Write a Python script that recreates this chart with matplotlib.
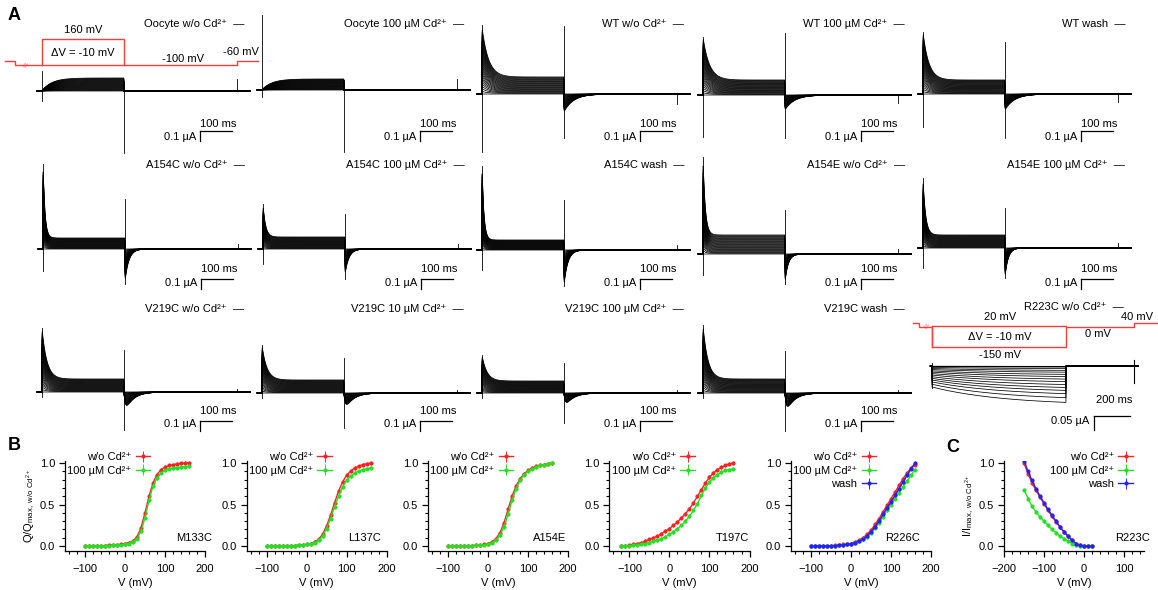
import numpy as np
import matplotlib
matplotlib.use('Agg')
import matplotlib.pyplot as plt
from matplotlib.ticker import MultipleLocator

plt.rcParams['font.family'] = ['Liberation Sans', 'DejaVu Sans']
plt.rcParams['mathtext.fontset'] = 'custom'
plt.rcParams['mathtext.rm'] = 'Liberation Sans'
plt.rcParams['mathtext.it'] = 'Liberation Sans:italic'
plt.rcParams['mathtext.default'] = 'regular'
plt.rcParams['font.size'] = 8

CD = 'Cd²⁺'

# ---------------- panel A: current-trace families (uA, ms) ----------------
cell_labels = [
    'Oocyte w/o ' + CD, 'Oocyte 100 µM ' + CD, 'WT w/o ' + CD,
    'WT 100 µM ' + CD, 'WT wash',
    'A154C w/o ' + CD, 'A154C 100 µM ' + CD, 'A154C wash',
    'A154E w/o ' + CD, 'A154E 100 µM ' + CD,
    'V219C w/o ' + CD, 'V219C 10 µM ' + CD, 'V219C 100 µM ' + CD,
    'V219C wash',
]
peak_on = [0.00, 0.00, 0.67, 0.58, 0.62, 0.85, 0.45, 0.84, 0.97, 0.70, 0.64, 0.48, 0.38, 0.68]
ss_on = [0.13, 0.11, 0.17, 0.15, 0.14, 0.11, 0.12, 0.10, 0.19, 0.13, 0.13, 0.13, 0.12, 0.14]
tau_on = [1, 1, 20, 20, 18, 6, 8, 6, 7, 8, 15, 15, 15, 15]
rise_on = [30, 30, 0.3, 0.3, 0.3, 0.3, 0.3, 0.3, 0.3, 0.3, 0.3, 0.3, 0.3, 0.3]
peak_off = [0.00, 0.00, 0.18, 0.15, 0.16, 0.33, 0.26, 0.36, 0.29, 0.30, 0.20, 0.17, 0.14, 0.20]
tau_off = [1, 1, 30, 30, 30, 12, 12, 12, 10, 10, 25, 25, 25, 25]
rise_off = [0.3, 0.3, 0.3, 0.3, 0.3, 0.3, 0.3, 0.3, 0.3, 0.3, 5, 5, 5, 5]
cap_on = [(0.20, -0.10), (0.75, -0.07), (0.69, -0.58), (0.58, -0.42), (0.62, -0.33),
          (0.85, -0.22), (0.45, -0.15), (0.84, -0.20), (0.97, -0.21), (0.70, -0.20),
          (0.64, -0.05), (0.48, -0.05), (0.38, -0.05), (0.68, -0.05)]
cap_off = [(0.10, -0.62), (0.10, -0.62), (0.68, -0.44), (0.62, -0.43), (0.52, -0.44),
           (0.50, -0.35), (0.35, -0.30), (0.50, -0.36), (0.44, -0.30), (0.40, -0.30),
           (0.42, -0.38), (0.35, -0.35), (0.30, -0.30), (0.42, -0.38)]
cap_end = [0.12, 0.11, -0.10, -0.08, -0.08, 0.05, 0.05, 0.05, 0.05, 0.05, 0.03, 0.03, 0.03, 0.03]
n_steps = 27          # 160 mV down to -100 mV in -10 mV steps
t_pulse, t_step, t_end = 256, 609, 650

# R223C (hyperpolarising protocol)
r223_i_start = 0.075
r223_i_end = 0.13
r223_tau = 400
r_pulse, r_step, r_end = 745, 1122, 1145

# ---------------- panel B: Q-V curves ----------------
b_names = ['M133C', 'L137C', 'A154E', 'T197C', 'R226C']
v_b = np.arange(-100, 161, 10)
v_t197 = np.arange(-120, 161, 10)
m133c_wo = [0, 0, 0, 0, 0, 0.005, 0.01, 0.01, 0.015, 0.02,
            0.03, 0.04, 0.06, 0.11, 0.22, 0.40, 0.60, 0.76, 0.86, 0.92, 0.95, 0.97, 0.98, 0.99, 0.995, 1.0, 1.0]
m133c_cd = [0, 0, 0, 0, 0, 0, 0.005, 0.01, 0.01, 0.015,
            0.02, 0.03, 0.05, 0.09, 0.18, 0.34, 0.55, 0.72, 0.82, 0.88, 0.91, 0.93, 0.94, 0.945, 0.95, 0.955, 0.96]
l137c_wo = [0, 0, 0, 0, 0, 0, 0, 0.005, 0.01, 0.015,
            0.02, 0.03, 0.05, 0.08, 0.14, 0.24, 0.37, 0.52, 0.66, 0.77, 0.85, 0.90, 0.94, 0.96, 0.98, 0.99, 1.0]
l137c_cd = [0, 0, 0, 0, 0, 0, 0, 0.005, 0.01, 0.01,
            0.02, 0.03, 0.04, 0.07, 0.12, 0.21, 0.33, 0.47, 0.60, 0.71, 0.79, 0.84, 0.88, 0.90, 0.92, 0.93, 0.94]
a154e_wo = [0, 0, 0, 0, 0, 0, 0.005, 0.01, 0.01, 0.02,
            0.03, 0.05, 0.09, 0.16, 0.28, 0.44, 0.60, 0.72, 0.81, 0.87, 0.91, 0.94, 0.96, 0.97, 0.98, 0.99, 1.0]
a154e_cd = [0, 0, 0, 0, 0, 0, 0.005, 0.01, 0.01, 0.015,
            0.025, 0.04, 0.07, 0.13, 0.23, 0.38, 0.55, 0.69, 0.79, 0.86, 0.90, 0.93, 0.95, 0.97, 0.98, 0.99, 1.0]
t197c_wo = [0, 0, 0.01, 0.02, 0.03, 0.04, 0.06, 0.08, 0.10, 0.12, 0.15, 0.18, 0.21, 0.25, 0.29,
            0.34, 0.39, 0.45, 0.52, 0.60, 0.68, 0.76, 0.83, 0.88, 0.92, 0.95, 0.97, 0.99, 1.0]
t197c_cd = [0, 0, 0, 0.01, 0.01, 0.02, 0.03, 0.04, 0.06, 0.07, 0.09, 0.11, 0.14, 0.17, 0.21,
            0.25, 0.30, 0.36, 0.43, 0.51, 0.61, 0.70, 0.77, 0.82, 0.86, 0.89, 0.91, 0.92, 0.93]
r226c_wo = [0, 0, 0, 0, 0, 0, 0.01, 0.01, 0.02, 0.02,
            0.03, 0.05, 0.07, 0.10, 0.14, 0.19, 0.26, 0.33, 0.41, 0.49, 0.57, 0.65, 0.73, 0.81, 0.88, 0.94, 0.98]
r226c_cd = [0, 0, 0, 0, 0, 0, 0.005, 0.01, 0.01, 0.02,
            0.02, 0.04, 0.06, 0.08, 0.11, 0.16, 0.22, 0.28, 0.35, 0.43, 0.50, 0.57, 0.64, 0.71, 0.78, 0.85, 0.92]
r226c_wash = [0, 0, 0, 0, 0, 0, 0.005, 0.01, 0.01, 0.02,
              0.03, 0.04, 0.06, 0.08, 0.12, 0.17, 0.23, 0.30, 0.38, 0.46, 0.53, 0.61, 0.69, 0.77, 0.85, 0.93, 1.0]
b_err = 0.02

# ---------------- panel C: R223C I-V ----------------
v_c = np.arange(-150, 21, 10)
c_wo = [1.0, 0.87, 0.76, 0.67, 0.59, 0.51, 0.43, 0.36, 0.29, 0.23, 0.17, 0.12, 0.07, 0.03, 0.01, 0, 0, 0]
c_cd = [0.68, 0.57, 0.48, 0.41, 0.35, 0.30, 0.25, 0.20, 0.16, 0.12, 0.09, 0.06, 0.03, 0.01, 0, 0, 0, 0]
c_wash = [1.03, 0.90, 0.79, 0.69, 0.60, 0.52, 0.44, 0.37, 0.30, 0.23, 0.17, 0.12, 0.07, 0.03, 0.01, 0, 0, 0]

RED, GREEN, BLUE, PROT = '#ff2222', '#22e022', '#2222ff', '#ff3c3c'

# ---------------- layout (pixels) ----------------
W, H = 1158, 590
fig = plt.figure(figsize=(W / 100, H / 100), dpi=100)


def rect(l, t, r, b):
    return [l / W, 1 - b / H, (r - l) / W, (b - t) / H]


PX_MS, PX_UA = 0.32, 100.0
cell_x0 = [42, 262, 482, 703, 923, 43, 263, 482, 703, 923, 42, 262, 482, 703]
cell_base = [91, 90, 94, 95, 94, 249, 249, 250, 254, 248, 392, 393, 393, 393]
row_label_y = [24, 165, 309]
row_bar_y = [(124, 131, 137), (269, 279, 283), (411, 421, 424)]
TRACE_LW = 0.55

for i in range(len(cell_labels)):
    x0, yb = cell_x0[i], cell_base[i]
    ax = fig.add_axes(rect(x0 - 40, yb - 110, x0 + 220, yb + 75))
    ax.set_xlim(-40 / PX_MS, 220 / PX_MS)
    ax.set_ylim(-75 / PX_UA, 110 / PX_UA)
    ax.axis('off')
    t_on = np.arange(0, t_pulse, 0.5)
    t_off = np.arange(0, t_step - t_pulse, 0.5)
    tr = max(peak_on[i] - ss_on[i], 0)
    for k in range(n_steps):
        w = k / (n_steps - 1)
        on = w * ss_on[i] * (1 - np.exp(-t_on / rise_on[i])) + w * tr * np.exp(-t_on / tau_on[i])
        off = -w * peak_off[i] * np.exp(-t_off / tau_off[i]) * (1 - np.exp(-t_off / rise_off[i]))
        if rise_off[i] > 1:
            off = off / (1 - np.exp(-2.0))
        t = np.concatenate([[-15, 0], t_on, t_off + t_pulse, [t_step, t_end]])
        y = np.concatenate([[0, 0], on, off, [0, 0]])
        ax.plot(t, y, color='k', lw=TRACE_LW)
    ax.plot([0, 0], cap_on[i], color='k', lw=0.6)
    ax.plot([t_pulse, t_pulse], cap_off[i], color='k', lw=0.6)
    ax.plot([t_step, t_step], [0, cap_end[i]], color='k', lw=0.6)

# R223C trace family
x0r, ybr = 932, 366
PX_MS_R, PX_UA_R = 0.18, 280.0
axr = fig.add_axes(rect(x0r - 20, ybr - 20, x0r + 215, ybr + 70))
axr.set_xlim(-20 / PX_MS_R, 215 / PX_MS_R)
axr.set_ylim(-70 / PX_UA_R, 20 / PX_UA_R)
axr.axis('off')
tp = np.arange(0, r_pulse, 1.0)
grow = (1 - np.exp(-tp / r223_tau)) / (1 - np.exp(-r_pulse / r223_tau))
for w in c_wo:
    cur = -w * (r223_i_start + (r223_i_end - r223_i_start) * grow)
    t = np.concatenate([[-10, 0], tp, [r_pulse, r_step, r_end]])
    y = np.concatenate([[0, 0], cur, [0, 0, 0]])
    axr.plot(t, y, color='k', lw=TRACE_LW)
axr.plot([0, 0], [0.01, -0.08], color='k', lw=0.6)
axr.plot([r_step, r_step], [0.02, -0.06], color='k', lw=0.8)

# overlay for text, protocols and scale bars
ov = fig.add_axes([0, 0, 1, 1])
ov.set_xlim(0, W)
ov.set_ylim(H, 0)
ov.axis('off')

for i, lab in enumerate(cell_labels):
    row = i // 5
    x0 = cell_x0[i]
    ov.text(x0 + 202, row_label_y[row], lab + '  —', ha='right', va='center')
    ty, by, uy = row_bar_y[row]
    bl = 100 * PX_MS
    ov.plot([x0 + 190 - bl, x0 + 190], [by, by], color='k', lw=0.9)
    ov.plot([x0 + 190 - bl, x0 + 190 - bl], [by, by + 0.1 * PX_UA], color='k', lw=0.9)
    ov.text(x0 + 190 - bl / 2 + 2, ty, '100 ms', ha='center', va='center')
    ov.text(x0 + 190 - bl - 4, uy, '0.1 µA', ha='right', va='center')

ov.text(1124, 307, 'R223C w/o ' + CD + '  —', ha='right', va='center')
blr = 200 * PX_MS_R
ov.plot([1130 - blr, 1130], [416, 416], color='k', lw=0.9)
ov.plot([1130 - blr, 1130 - blr], [416, 416 + 0.05 * PX_UA_R], color='k', lw=0.9)
ov.text(1130 - blr / 2 + 2, 400, '200 ms', ha='center', va='center')
ov.text(1130 - blr - 5, 421, '0.05 µA', ha='right', va='center')

# voltage protocols
ov.plot([5, 15, 15, 42, 42, 124, 124, 237, 237, 258],
        [61, 61, 65, 65, 39, 39, 65, 65, 61, 61], color=PROT, lw=1.0)
ov.plot([42, 124], [65, 65], color=PROT, lw=1.0)
ov.text(24, 66, '//', color=PROT, fontsize=5, ha='center', va='center', rotation=-20)
ov.text(83, 30, '160 mV', ha='center', va='center')
ov.text(83, 53, 'ΔV = -10 mV', ha='center', va='center')
ov.text(183, 59, '-100 mV', ha='center', va='center')
ov.text(241, 52, '-60 mV', ha='center', va='center')

ov.plot([913, 919, 919, 932, 932, 1066, 1066, 1134, 1134, 1158],
        [323, 323, 327, 327, 347, 347, 327, 327, 323, 323], color=PROT, lw=1.0)
ov.plot([932, 1066], [326, 326], color=PROT, lw=1.0)
ov.plot([932, 932], [326, 347], color=PROT, lw=1.0)
ov.text(925, 327, '//', color=PROT, fontsize=5, ha='center', va='center', rotation=-20)
ov.text(1000, 317, '20 mV', ha='center', va='center')
ov.text(1000, 337, 'ΔV = -10 mV', ha='center', va='center')
ov.text(1000, 355, '-150 mV', ha='center', va='center')
ov.text(1098, 334, '0 mV', ha='center', va='center')
ov.text(1137, 317, '40 mV', ha='center', va='center')

ov.text(8, 15, 'A', fontsize=13, fontweight='bold', va='center')
ov.text(8, 445, 'B', fontsize=13, fontweight='bold', va='center')
ov.text(946, 447, 'C', fontsize=13, fontweight='bold', va='center')

# ---------------- panels B and C ----------------
lbl_wo = 'w/o ' + CD
lbl_cd = '100 µM ' + CD
b_series = [
    (v_b, [(m133c_wo, RED, lbl_wo), (m133c_cd, GREEN, lbl_cd)]),
    (v_b, [(l137c_wo, RED, lbl_wo), (l137c_cd, GREEN, lbl_cd)]),
    (v_b, [(a154e_wo, RED, lbl_wo), (a154e_cd, GREEN, lbl_cd)]),
    (v_t197, [(t197c_wo, RED, lbl_wo), (t197c_cd, GREEN, lbl_cd)]),
    (v_b, [(r226c_wo, RED, lbl_wo), (r226c_cd, GREEN, lbl_cd), (r226c_wash, BLUE, 'wash')]),
]
b_left = [65, 246.5, 428, 609.5, 791]
b_name_x = [1.05, 0.96, 0.99, 1.0, 0.92]


def style_iv(ax):
    for s in ['top', 'right']:
        ax.spines[s].set_visible(False)
    for s in ['left', 'bottom']:
        ax.spines[s].set_linewidth(0.9)
    ax.tick_params(which='major', direction='out', length=4, width=0.9, pad=3, labelsize=8)
    ax.tick_params(axis='x', which='major', pad=5)
    ax.tick_params(which='minor', direction='out', length=2.2, width=0.8)
    ax.set_ylim(-0.06, 1.03)
    ax.set_yticks([0, 0.5, 1.0])
    ax.set_yticklabels(['0.0', '0.5', '1.0'])
    ax.yaxis.set_minor_locator(MultipleLocator(0.1))
    ax.xaxis.set_minor_locator(MultipleLocator(20))
    ax.set_xlabel('V (mV)', labelpad=3)


LEG = dict(loc='upper right', markerfirst=False, frameon=False, fontsize=8,
           handlelength=1.3, handletextpad=0.4, labelspacing=0.3, borderpad=0, borderaxespad=0)

for j, (vv, series) in enumerate(b_series):
    ax = fig.add_axes(rect(b_left[j], 460.5, b_left[j] + 140, 551))
    handles = []
    for vals, col, lab in series:
        h = ax.errorbar(vv, vals, yerr=b_err, color=col, marker='o', ms=3, lw=1,
                        mew=0, capsize=1.2, elinewidth=0.7, label=lab)
        handles.append(h)
    ax.set_xlim(-150, 200)
    ax.set_xticks([-100, 0, 100, 200])
    style_iv(ax)
    ax.text(b_name_x[j], 0.14, b_names[j], transform=ax.transAxes, ha='right', va='center')
    ax.legend(handles=handles, bbox_to_anchor=(0.61, 1.09), **LEG)
    if j == 0:
        ax.set_ylabel('Q/Q$_{max,\\ w/o\\ Cd^{2+}}$', labelpad=2)

axc = fig.add_axes(rect(1004, 460.5, 1144, 551))
hc = []
for vals, col, lab in [(c_wo, RED, lbl_wo), (c_cd, GREEN, lbl_cd), (c_wash, BLUE, 'wash')]:
    hc.append(axc.errorbar(v_c, vals, yerr=b_err, color=col, marker='o', ms=3, lw=1,
                           mew=0, capsize=1.2, elinewidth=0.7, label=lab))
axc.set_xlim(-200, 150)
axc.set_xticks([-200, -100, 0, 100])
style_iv(axc)
axc.text(1.04, 0.14, 'R223C', transform=axc.transAxes, ha='right', va='center')
axc.legend(handles=hc, bbox_to_anchor=(0.92, 1.09), **LEG)
axc.set_ylabel('I/I$_{max,\\ w/o\\ Cd^{2+}}$', labelpad=2)

fig.savefig('out.png', dpi=100)
